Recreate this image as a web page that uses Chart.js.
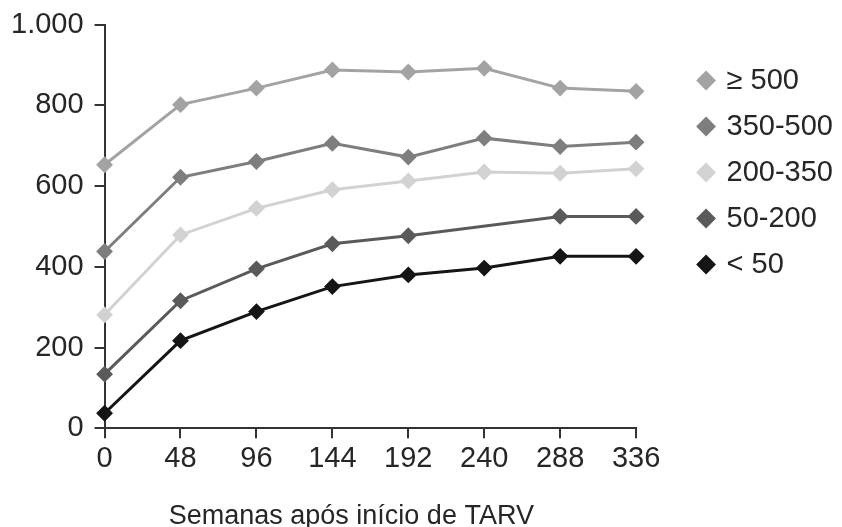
<!DOCTYPE html>
<html lang="pt-BR">
<head>
<meta charset="utf-8">
<title>Evolução de CD4 após início de TARV</title>
<script src="https://cdn.jsdelivr.net/npm/chart.js@4/dist/chart.umd.min.js"></script>
<style>
  html, body { margin: 0; padding: 0; background: #ffffff; }
  #wrap { width: 842px; height: 527px; position: relative; }
</style>
</head>
<body>
<div id="wrap"><canvas id="chart" width="842" height="527"></canvas></div>
<script>
// Semanas após início de TARV
const weeks = [0, 48, 96, 144, 192, 240, 288, 336];

// Faixas de CD4 no início do tratamento
const seriesNames = ['\u2265 500', '350-500', '200-350', '50-200', '< 50'];

// Mediana de CD4 por faixa inicial
const cd4Above500 = [653, 802, 843, 888, 883, 892, 843, 835];
const cd4From350To500 = [438, 622, 661, 706, 672, 719, 698, 709];
const cd4From200To350 = [281, 479, 545, 591, 613, 635, 632, 643];
const cd4From50To200 = [134, 316, 395, 457, 477, null, 525, 525];
const cd4Below50 = [37, 217, 289, 351, 380, 397, 426, 426];

const yTicks = [0, 200, 400, 600, 800, 1000];

const seriesColors = ['#a3a3a3', '#7e7e7e', '#d2d2d2', '#5a5a5a', '#151515'];
const seriesValues = [cd4Above500, cd4From350To500, cd4From200To350, cd4From50To200, cd4Below50];

const FONT = "'Liberation Sans', Arial, Helvetica, sans-serif";
const TEXT = '#262626';
const AXIS = '#333333';

const datasets = seriesNames.map((name, i) => ({
  label: name,
  data: seriesValues[i],
  borderColor: seriesColors[i],
  backgroundColor: seriesColors[i],
  borderWidth: 3,
  pointStyle: 'rectRot',
  pointRadius: 7,
  pointHoverRadius: 7,
  pointBorderWidth: 2,
  pointBackgroundColor: seriesColors[i],
  pointBorderColor: seriesColors[i],
  spanGaps: true,
  tension: 0
}));

// Axis caption drawn under the x axis
const axisCaption = {
  id: 'axisCaption',
  afterDraw(chart, args, opts) {
    const { ctx, chartArea } = chart;
    ctx.save();
    ctx.font = opts.font;
    ctx.fillStyle = opts.color;
    ctx.textAlign = 'center';
    ctx.textBaseline = 'alphabetic';
    const cx = (chartArea.left + chartArea.right) / 2 + opts.shiftX;
    ctx.fillText(opts.text, cx, chartArea.bottom + opts.offsetY);
    ctx.restore();
  }
};

new Chart(document.getElementById('chart'), {
  type: 'line',
  data: { labels: weeks, datasets },
  plugins: [axisCaption],
  options: {
    responsive: false,
    animation: false,
    locale: 'pt-BR',
    layout: { padding: { top: 0, left: 0, right: -1, bottom: 48 } },
    plugins: {
      tooltip: { enabled: false },
      title: { display: false },
      legend: {
        position: 'right',
        align: 'start',
        maxWidth: 300,
        title: { display: true, text: ' ', font: { size: 10 }, padding: { top: 37, bottom: 0 } },
        labels: {
          usePointStyle: true,
          pointStyle: 'rectRot',
          boxHeight: 12,
          boxWidth: 12,
          padding: 17,
          color: TEXT,
          font: { family: FONT, size: 29 }
        }
      },
      axisCaption: {
        text: 'Semanas após início de TARV',
        font: "27px 'Liberation Sans', Arial, Helvetica, sans-serif",
        color: TEXT,
        shiftX: -19,
        offsetY: 96
      }
    },
    scales: {
      x: {
        type: 'category',
        offset: false,
        grid: { display: true, drawOnChartArea: false, drawTicks: true, tickLength: 10, color: AXIS, lineWidth: 2 },
        border: { display: true, color: AXIS, width: 2 },
        ticks: { color: TEXT, font: { family: FONT, size: 29 }, padding: 3, maxRotation: 0, autoSkip: false }
      },
      y: {
        min: yTicks[0],
        max: yTicks[yTicks.length - 1],
        afterBuildTicks(scale) { scale.ticks = yTicks.map(v => ({ value: v })); },
        grid: { display: true, drawOnChartArea: false, drawTicks: true, tickLength: 10, color: AXIS, lineWidth: 2 },
        border: { display: true, color: AXIS, width: 2 },
        ticks: {
          color: TEXT,
          font: { family: FONT, size: 29, lineHeight: 0.95 },
          padding: 11,
          callback: v => v.toLocaleString('pt-BR')
        }
      },
      gap: {
        position: 'right',
        display: true,
        grid: { display: false, drawTicks: false },
        border: { display: false },
        ticks: { display: false },
        afterFit(scale) { scale.width = 47; }
      }
    }
  }
});
</script>
</body>
</html>
